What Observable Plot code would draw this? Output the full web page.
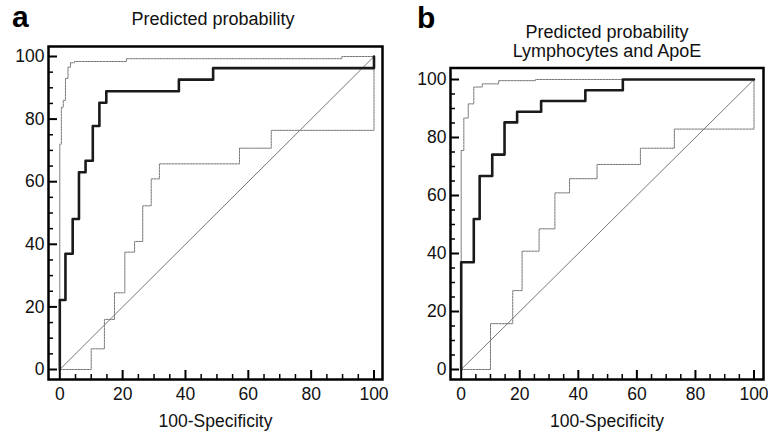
<!DOCTYPE html>
<html><head><meta charset="utf-8">
<script src="https://cdn.jsdelivr.net/npm/d3@7"></script>
<script src="https://cdn.jsdelivr.net/npm/@observablehq/plot@0.6"></script>
<style>
body{margin:0;background:#fff;font-family:"Liberation Sans",Arial,Helvetica,sans-serif;}
#root{position:relative;width:768px;height:433px;overflow:hidden;background:#fff;}
.panel{position:absolute;}
.letter{position:absolute;font-weight:bold;font-size:30px;line-height:30px;color:#000;}
.title{position:absolute;text-align:center;font-size:18px;line-height:19px;color:#111;width:240px;white-space:nowrap;}
</style></head><body><div id="root"></div>
<script>
// ---- data ----
const xTicks = [0, 20, 40, 60, 80, 100];
const yTicks = [0, 20, 40, 60, 80, 100];
const minorTicks = [5, 10, 15, 25, 30, 35, 45, 50, 55, 65, 70, 75, 85, 90, 95];
const xLabel = "100-Specificity";
const diagX = [0, 100];
const diagY = [0, 100];

// panel a: Predicted probability
const aTitle = ["Predicted probability"];
const aRocX = [0, 0, 1.8, 4.1, 6.1, 8.2, 10.5, 12.6, 14.8, 37.9, 48.8, 100, 100];
const aRocY = [0, 22.2, 37, 48.1, 63, 66.7, 77.8, 85.2, 88.9, 92.6, 96.3, 96.3, 100];
const aUpX = [0, 0, 0.5, 1.1, 1.8, 2.6, 3.4, 4.7, 21.2, 89.8, 100];
const aUpY = [0, 72, 83.8, 86, 93, 96.6, 98, 98.4, 99.3, 100, 100];
const aLoX = [0, 10, 14.2, 17.4, 20.7, 23.8, 26.4, 29.1, 31.7, 57.2, 67.3, 100, 100];
const aLoY = [0, 6.6, 16, 24.5, 37.5, 40.9, 52.3, 60.9, 65.7, 70.7, 76.4, 76.4, 100];

// panel b: Predicted probability, Lymphocytes and ApoE
const bTitle = ["Predicted probability", "Lymphocytes and ApoE"];
const bRocX = [0, 0, 4.3, 6.3, 10.6, 14.8, 19.1, 27.3, 42.4, 55.2, 100];
const bRocY = [0, 37, 51.9, 66.7, 74.1, 85.2, 88.9, 92.6, 96.3, 100, 100];
const bUpX = [0, 0, 0.9, 2.4, 4.3, 7.2, 12.8, 25.4, 100];
const bUpY = [0, 75.5, 86.7, 91.6, 97.4, 98.5, 99.6, 100, 100];
const bLoX = [0, 10, 17.6, 20.8, 26.6, 32, 37, 46.4, 61.2, 72.8, 100, 100];
const bLoY = [0, 15.8, 27.2, 40.8, 48.5, 60.9, 65.8, 70.7, 76.3, 82.9, 82.9, 100];

const FONT = '"Liberation Sans", Arial, Helvetica, sans-serif';
const pts = (xs, ys) => xs.map((x, i) => ({x, y: ys[i]}));

function panel(c) {
  const W = 384, H = c.height;
  const plotH = H - c.mt - c.mb;
  const plotW = W - c.ml - c.mr;
  const majLen = 9, minLen = 5;
  return Plot.plot({
    width: W, height: H,
    marginTop: c.mt, marginBottom: c.mb, marginLeft: c.ml, marginRight: c.mr,
    x: {domain: [0, 100], insetLeft: c.il, insetRight: c.ir},
    y: {domain: [0, 100], insetTop: c.it, insetBottom: c.ib},
    style: {fontFamily: FONT, fontSize: "17.5px", color: "#000", background: "none", overflow: "visible"},
    marks: [
      Plot.line(pts(diagX, diagY), {x: "x", y: "y", stroke: "#555", strokeWidth: 0.8}),
      Plot.line(pts(c.loX, c.loY), {x: "x", y: "y", curve: "step-after", stroke: "#777", strokeWidth: 1, strokeDasharray: "2,1"}),
      Plot.line(pts(c.upX, c.upY), {x: "x", y: "y", curve: "step-after", stroke: "#777", strokeWidth: 1, strokeDasharray: "2,1"}),
      Plot.line(pts(c.rocX, c.rocY), {x: "x", y: "y", curve: "step-after", stroke: "#1a1a1a", strokeWidth: 2.6}),
      Plot.ruleX(minorTicks, {x: d => d, insetTop: plotH - minLen, stroke: "#000", strokeWidth: 1.5}),
      Plot.ruleX(xTicks, {x: d => d, insetTop: plotH - majLen, stroke: "#000", strokeWidth: 2}),
      Plot.ruleY(minorTicks, {y: d => d, insetRight: plotW - minLen, stroke: "#000", strokeWidth: 1.5}),
      Plot.ruleY(yTicks, {y: d => d, insetRight: plotW - majLen, stroke: "#000", strokeWidth: 2}),
      Plot.frame({stroke: "#000", strokeWidth: 2.5}),
      Plot.axisX({ticks: xTicks, tickSize: 0, tickPadding: 8, fontSize: 17.5, label: null, fill: "#111"}),
      Plot.axisY({ticks: yTicks, tickSize: 0, tickPadding: 4, fontSize: 17.5, label: null, fill: "#111"}),
      Plot.text([xLabel], {text: d => d, frameAnchor: "bottom", lineAnchor: "middle", dy: 42, fontSize: 17.5, fill: "#111"})
    ]
  });
}

const root = document.getElementById("root");
function place(el, left, top) {
  el.classList.add("panel");
  el.style.left = left + "px";
  el.style.top = top + "px";
  root.appendChild(el);
}
function addText(cls, lines, left, top) {
  const d = document.createElement("div");
  d.className = cls;
  d.style.left = left + "px";
  d.style.top = top + "px";
  d.innerHTML = lines.join("<br>");
  root.appendChild(d);
}

place(panel({height: 395, mt: 8, mb: 54, ml: 48, mr: 2, il: 11.3, ir: 8.5, it: 10, ib: 10,
  rocX: aRocX, rocY: aRocY, upX: aUpX, upY: aUpY, loX: aLoX, loY: aLoY}), 0, 38);
place(panel({height: 375, mt: 9.5, mb: 54, ml: 66, mr: 5, il: 10.7, ir: 9.5, it: 11.5, ib: 10,
  rocX: bRocX, rocY: bRocY, upX: bUpX, upY: bUpY, loX: bLoX, loY: bLoY}), 384, 58);

addText("letter", ["a"], 12, 2);
addText("letter", ["b"], 417, 3);
addText("title", aTitle, 213 - 120, 10);
addText("title", bTitle, 607 - 120, 23);
</script>
</body></html>
